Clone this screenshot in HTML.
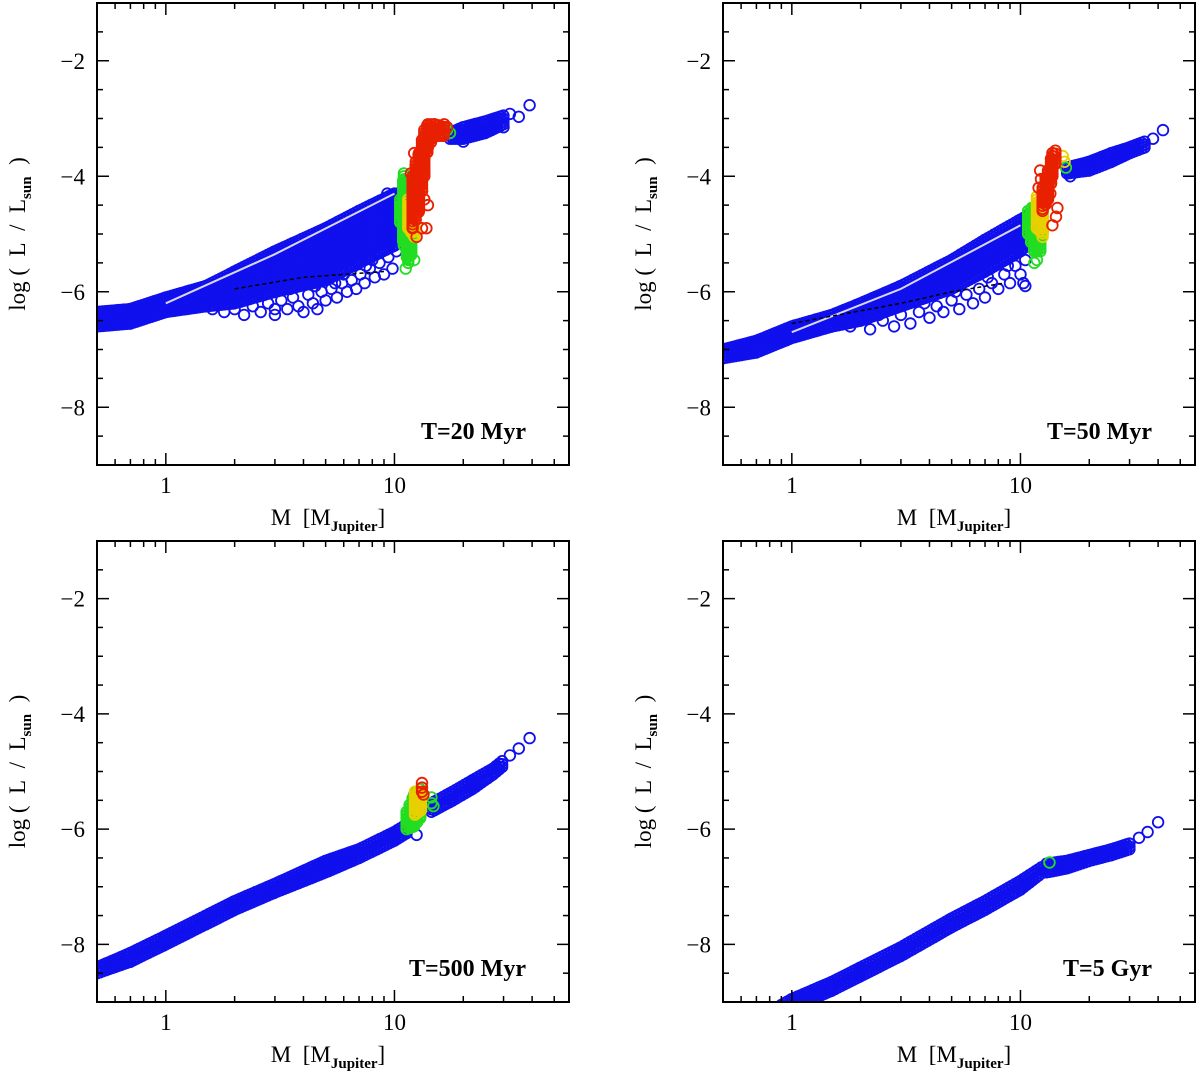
<!DOCTYPE html>
<html><head><meta charset="utf-8"><style>
body{margin:0;background:#fff}
svg text{font-family:"Liberation Serif",serif;fill:#000}
</style></head><body>
<svg id="fig" width="1200" height="1075" viewBox="0 0 1200 1075" xmlns="http://www.w3.org/2000/svg"></svg>
<script>
// ---------- DATA ----------
const yTicks=[-2,-4,-6,-8];
const yTickLabels=["\u22122","\u22124","\u22126","\u22128"];
const xTicks=[1,10];
const xTickLabels=["1","10"];
const panelLabels=["T=20 Myr","T=50 Myr","T=500 Myr","T=5 Gyr"];

// Panel 1 (20 Myr)
const p1BlueM=[0.5,0.7,1,1.5,2,3,5,7,10,11];
const p1BlueHi=[-6.35,-6.3,-6.1,-5.9,-5.65,-5.3,-4.9,-4.6,-4.3,-4.3];
const p1BlueLo=[-6.6,-6.55,-6.35,-6.25,-6.2,-6.0,-5.8,-5.5,-5.2,-4.9];
const p1OutM=[1.6,1.8,2.0,2.2,2.4,2.6,2.8,3.0,3.2,3.4,3.6,3.8,4.0,4.2,4.4,4.6,4.8,5.0,5.3,5.6,5.9,6.2,6.5,6.8,7.1,7.4,7.8,8.2,8.6,9.0,9.4,9.8,10.2,4.5,3.5,2.5,6,8,9.5,10.5,3.0,5.5,7.5,9.3];
const p1OutL=[-6.3,-6.35,-6.3,-6.4,-6.25,-6.35,-6.2,-6.3,-6.15,-6.3,-6.1,-6.25,-6.35,-6.05,-6.2,-6.3,-6.0,-6.15,-5.95,-6.1,-5.85,-6.0,-5.8,-5.95,-5.7,-5.85,-5.6,-5.75,-5.5,-5.7,-5.4,-5.6,-5.3,-5.9,-5.95,-6.05,-5.7,-5.45,-5.15,-5.0,-6.4,-5.85,-5.55,-4.3];
const p1GreenM=[10.6,11,11.5,12];
const p1GreenHi=[-4.4,-4.0,-4.1,-4.5];
const p1GreenLo=[-4.8,-5.2,-5.5,-5.3];
const p1GreenPtM=[11.2,12.2,11,17,17.5];
const p1GreenPtL=[-5.6,-5.45,-3.95,-3.2,-3.25];
const p1YellowM=[11.5,12.5];
const p1YellowHi=[-4.4,-4.6];
const p1YellowLo=[-4.9,-5.1];
const p1RedM=[12,12.8,13.5,14,15,16.5];
const p1RedHi=[-4.0,-3.6,-3.2,-3.1,-3.1,-3.15];
const p1RedLo=[-4.9,-4.6,-4.0,-3.5,-3.3,-3.3];
const p1RedPtM=[11.8,12.2,12.4,12.5,13.2,13.8,13.5,14,12.2,16.5,17];
const p1RedPtL=[-3.95,-3.6,-3.75,-5.05,-4.9,-4.9,-4.4,-4.5,-4.2,-3.1,-3.15];
const p1TailM=[17.5,20,25,30];
const p1TailHi=[-3.25,-3.15,-3.05,-2.95];
const p1TailLo=[-3.35,-3.35,-3.25,-3.1];
const p1TailPtM=[20,22,30,32,35,39];
const p1TailPtL=[-3.4,-3.3,-3.15,-2.92,-2.97,-2.77];
const p1WhiteM=[1,3,10];
const p1WhiteL=[-6.2,-5.35,-4.3];
const p1DashM=[2,4,9];
const p1DashL=[-5.95,-5.75,-5.65];

// Panel 2 (50 Myr)
const p2BlueM=[0.5,0.7,1,1.5,2,3,5,7,10,11.2];
const p2BlueHi=[-7.0,-6.85,-6.6,-6.4,-6.2,-5.9,-5.45,-5.1,-4.75,-4.65];
const p2BlueLo=[-7.15,-7.05,-6.8,-6.6,-6.5,-6.25,-5.95,-5.65,-5.3,-5.1];
const p2OutM=[1.8,2.2,2.5,2.8,3.0,3.3,3.6,4.0,4.3,4.6,5.0,5.4,5.8,6.2,6.6,7.0,7.5,8.0,8.5,9,9.5,10,10.5,3.8,5.2,7.2,2.4,8.8,10.3,10.5];
const p2OutL=[-6.6,-6.65,-6.5,-6.6,-6.4,-6.55,-6.35,-6.45,-6.25,-6.35,-6.15,-6.3,-6.05,-6.2,-5.95,-6.1,-5.85,-5.95,-5.7,-5.85,-5.55,-5.7,-5.45,-6.2,-6.0,-5.75,-6.4,-5.55,-5.85,-5.9];
const p2GreenM=[10.8,11.5,12.5];
const p2GreenHi=[-4.6,-4.55,-4.8];
const p2GreenLo=[-5.0,-5.3,-5.3];
const p2GreenPtM=[11.8,11.5,11.2,15.8];
const p2GreenPtL=[-5.45,-5.5,-4.55,-3.85];
const p2YellowM=[11.8,12.6];
const p2YellowHi=[-4.35,-4.5];
const p2YellowLo=[-4.9,-5.0];
const p2YellowPtM=[12.5,15.3,15.6];
const p2YellowPtL=[-5.05,-3.65,-3.75];
const p2RedM=[12.5,13.2,13.8,14.3];
const p2RedHi=[-4.2,-3.9,-3.6,-3.55];
const p2RedLo=[-4.6,-4.4,-4.0,-3.75];
const p2RedPtM=[12.0,12.3,14.5,14.3,13.8,13.5,12.2];
const p2RedPtL=[-4.2,-4.05,-4.55,-4.7,-4.85,-4.3,-3.9];
const p2TailM=[16,20,25,30,35];
const p2TailHi=[-3.85,-3.75,-3.6,-3.5,-3.4];
const p2TailLo=[-3.95,-3.9,-3.75,-3.6,-3.5];
const p2TailPtM=[38,42,16.5];
const p2TailPtL=[-3.35,-3.2,-4.0];
const p2WhiteM=[1,3,10];
const p2WhiteL=[-6.7,-5.95,-4.85];
const p2DashM=[1,3,5,8.5];
const p2DashL=[-6.55,-6.2,-6.0,-5.85];

// Panel 3 (500 Myr)
const p3BlueM=[0.5,0.7,1,1.5,2,3,5,7,10,11.5];
const p3BlueHi=[-8.4,-8.15,-7.85,-7.5,-7.25,-6.95,-6.55,-6.35,-6.05,-5.9];
const p3BlueLo=[-8.5,-8.3,-8.0,-7.65,-7.4,-7.1,-6.75,-6.5,-6.2,-6.05];
const p3GreenM=[11.3,12.2,13];
const p3GreenHi=[-5.7,-5.4,-5.3];
const p3GreenLo=[-6.0,-5.95,-5.8];
const p3GreenPtM=[14.5,14.8,14.5];
const p3GreenPtL=[-5.45,-5.6,-5.55];
const p3YellowM=[12.3,13.3];
const p3YellowHi=[-5.35,-5.35];
const p3YellowLo=[-5.75,-5.65];
const p3RedPtM=[13.2,13.2,13.2,13.4];
const p3RedPtL=[-5.2,-5.28,-5.35,-5.4];
const p3TailM=[14.5,18,22,27,30];
const p3TailHi=[-5.55,-5.35,-5.15,-4.95,-4.8];
const p3TailLo=[-5.7,-5.5,-5.3,-5.05,-4.9];
const p3TailPtM=[32,35,39,12.5];
const p3TailPtL=[-4.72,-4.6,-4.42,-6.1];

// Panel 4 (5 Gyr)
const p4BlueM=[0.9,1,1.5,2,3,5,7,10,12.5];
const p4BlueHi=[-9.05,-8.95,-8.65,-8.4,-8.05,-7.55,-7.25,-6.9,-6.65];
const p4BlueLo=[-9.2,-9.1,-8.8,-8.55,-8.2,-7.7,-7.4,-7.05,-6.75];
const p4TailM=[13,16,20,25,30];
const p4TailHi=[-6.6,-6.55,-6.45,-6.35,-6.25];
const p4TailLo=[-6.75,-6.68,-6.55,-6.45,-6.35];
const p4TailPtM=[33,36,40];
const p4TailPtL=[-6.15,-6.05,-5.88];
const p4GreenPtM=[13.4];
const p4GreenPtL=[-6.58];

// ---------- RENDERING ----------
const NS="http://www.w3.org/2000/svg";
const svg=document.getElementById('fig');
const BLUE="#1010ee",GREEN="#22dd22",YELLOW="#e8d000",RED="#e82000";
const R=5.3,SW=1.8,STEP=3;
const XMIN=0.5,XMAX=58,YMIN=-9,YMAX=-1;
function mk(tag,attrs,parent){const e=document.createElementNS(NS,tag);for(const k in attrs)e.setAttribute(k,attrs[k]);(parent||svg).appendChild(e);return e;}

function makePanel(idx,x0,y0,x1,y1){
  const P={x0,y0,x1,y1};
  P.px=m=>x0+(Math.log10(m)-Math.log10(XMIN))/(Math.log10(XMAX)-Math.log10(XMIN))*(x1-x0);
  P.py=v=>y1-(v-YMIN)/(YMAX-YMIN)*(y1-y0);
  const g=mk('g',{});
  
  
  const cp=mk('clipPath',{id:'clip'+idx},g);
  mk('rect',{x:x0,y:y0,width:x1-x0,height:y1-y0},cp);
  P.g=g;
  P.plot=mk('g',{'clip-path':'url(#clip'+idx+')'},g);
  
  
  return P;
}
function circle(P,m,v,color,name){
  const c=mk('circle',{cx:P.px(m).toFixed(1),cy:P.py(v).toFixed(1),r:R,fill:'none',stroke:color,'stroke-width':SW},P.plot);
  
  
}
function band(P,M,Hi,Lo,color,name){
  const g=mk('g',{},P.plot);
  
  
  for(let i=0;i<M.length-1;i++){
    const xa=P.px(M[i]),xb=P.px(M[i+1]);
    for(let x=xa;x<=xb+0.01;x+=STEP){
      const t=xb>xa?(x-xa)/(xb-xa):0;
      const yh=P.py(Hi[i]+(Hi[i+1]-Hi[i])*t), yl=P.py(Lo[i]+(Lo[i+1]-Lo[i])*t);
      for(let y=yh;y<=yl+0.01;y+=STEP){
        mk('circle',{cx:x.toFixed(1),cy:y.toFixed(1),r:R,fill:'none',stroke:color,'stroke-width':SW},g);
      }
      mk('circle',{cx:x.toFixed(1),cy:yl.toFixed(1),r:R,fill:'none',stroke:color,'stroke-width':SW},g);
    }
  }
}
function points(P,M,L,color,name){for(let i=0;i<M.length;i++)circle(P,M[i],L[i],color,name);}
function line(P,M,L,style,name){
  const d=M.map((m,i)=>(i?'L':'M')+P.px(m).toFixed(1)+','+P.py(L[i]).toFixed(1)).join('');
  const p=mk('path',Object.assign({d:d,fill:'none'},style),P.plot);
  
  
}
function axes(P,idx,label){
  const g=P.g;const {x0,y0,x1,y1}=P;
  const fr=mk('rect',{x:x0,y:y0,width:x1-x0,height:y1-y0,fill:'none',stroke:'#000','stroke-width':2},g);
  
  
  for(let v=-8.5;v<=-1.5;v+=0.5){
    const y=P.py(v);const major=Math.abs(v%2)<1e-9;const L=major?12:6;
    mk('line',{x1:x0,y1:y,x2:x0+L,y2:y,stroke:'#000','stroke-width':1.5},g);
    mk('line',{x1:x1,y1:y,x2:x1-L,y2:y,stroke:'#000','stroke-width':1.5},g);
  }
  yTicks.forEach((v,i)=>{
    const t=mk('text',{x:x0-12,y:P.py(v)+8,'text-anchor':'end','font-size':23},g);
    t.textContent=yTickLabels[i];
    
    
  });
  const minors=[0.6,0.7,0.8,0.9,2,3,4,5,6,7,8,9,20,30,40,50];
  minors.forEach(m=>{const x=P.px(m);
    mk('line',{x1:x,y1:y1,x2:x,y2:y1-6,stroke:'#000','stroke-width':1.5},g);
    mk('line',{x1:x,y1:y0,x2:x,y2:y0+6,stroke:'#000','stroke-width':1.5},g);});
  xTicks.forEach((m,i)=>{const x=P.px(m);
    mk('line',{x1:x,y1:y1,x2:x,y2:y1-12,stroke:'#000','stroke-width':1.5},g);
    mk('line',{x1:x,y1:y0,x2:x,y2:y0+12,stroke:'#000','stroke-width':1.5},g);
    const t=mk('text',{x:x,y:y1+28,'text-anchor':'middle','font-size':23},g);
    t.textContent=xTickLabels[i];
    
    
  });
  const xt=mk('text',{x:(x0+x1)/2-5,y:y1+60,'text-anchor':'middle','font-size':23},g);
  xt.innerHTML='M&#160;&#160;[M<tspan font-size="15" font-weight="bold" dy="6">Jupiter</tspan><tspan dy="-6">]</tspan>';
  
  
  const yc=(y0+y1)/2;
  const yt=mk('text',{x:0,y:0,'text-anchor':'middle','font-size':23,transform:'translate('+(x0-72)+','+yc+') rotate(-90)'},g);
  yt.innerHTML='log&#160;(&#160;&#160;L&#160;&#160;/&#160;&#160;L<tspan font-size="15" font-weight="bold" dy="6">sun</tspan><tspan dy="-6">&#160;&#160;)</tspan>';
  
  
  const lb=mk('text',{x:x1-43,y:y1-26,'text-anchor':'end','font-size':24,'font-weight':'bold'},g);
  lb.textContent=label;
  
  
}

// Panel 1
const P1=makePanel(0,97,3,569,465);
band(P1,p1BlueM,p1BlueHi,p1BlueLo,BLUE,'blue-band');
points(P1,p1OutM,p1OutL,BLUE,'blue-point');
line(P1,p1WhiteM,p1WhiteL,{stroke:'#d8d8f0','stroke-width':2},'white-line');
line(P1,p1DashM,p1DashL,{stroke:'#000','stroke-width':1.5,'stroke-dasharray':'4,3'},'dashed-line');
band(P1,p1TailM,p1TailHi,p1TailLo,BLUE,'blue-tail');
points(P1,p1TailPtM,p1TailPtL,BLUE,'blue-point');
band(P1,p1GreenM,p1GreenHi,p1GreenLo,GREEN,'green-band');
points(P1,p1GreenPtM,p1GreenPtL,GREEN,'green-point');
band(P1,p1YellowM,p1YellowHi,p1YellowLo,YELLOW,'yellow-band');
band(P1,p1RedM,p1RedHi,p1RedLo,RED,'red-band');
points(P1,p1RedPtM,p1RedPtL,RED,'red-point');
axes(P1,0,panelLabels[0]);

// Panel 2
const P2=makePanel(1,723,3,1195,465);
band(P2,p2BlueM,p2BlueHi,p2BlueLo,BLUE,'blue-band');
points(P2,p2OutM,p2OutL,BLUE,'blue-point');
line(P2,p2WhiteM,p2WhiteL,{stroke:'#d8d8f0','stroke-width':2},'white-line');
line(P2,p2DashM,p2DashL,{stroke:'#000','stroke-width':1.5,'stroke-dasharray':'4,3'},'dashed-line');
band(P2,p2TailM,p2TailHi,p2TailLo,BLUE,'blue-tail');
points(P2,p2TailPtM,p2TailPtL,BLUE,'blue-point');
band(P2,p2GreenM,p2GreenHi,p2GreenLo,GREEN,'green-band');
points(P2,p2GreenPtM,p2GreenPtL,GREEN,'green-point');
band(P2,p2YellowM,p2YellowHi,p2YellowLo,YELLOW,'yellow-band');
points(P2,p2YellowPtM,p2YellowPtL,YELLOW,'yellow-point');
band(P2,p2RedM,p2RedHi,p2RedLo,RED,'red-band');
points(P2,p2RedPtM,p2RedPtL,RED,'red-point');
axes(P2,1,panelLabels[1]);

// Panel 3
const P3=makePanel(2,97,541,569,1002);
band(P3,p3BlueM,p3BlueHi,p3BlueLo,BLUE,'blue-band');
band(P3,p3TailM,p3TailHi,p3TailLo,BLUE,'blue-tail');
points(P3,p3TailPtM,p3TailPtL,BLUE,'blue-point');
band(P3,p3GreenM,p3GreenHi,p3GreenLo,GREEN,'green-band');
points(P3,p3GreenPtM,p3GreenPtL,GREEN,'green-point');
band(P3,p3YellowM,p3YellowHi,p3YellowLo,YELLOW,'yellow-band');
points(P3,p3RedPtM,p3RedPtL,RED,'red-point');
axes(P3,2,panelLabels[2]);

// Panel 4
const P4=makePanel(3,723,541,1195,1002);
band(P4,p4BlueM,p4BlueHi,p4BlueLo,BLUE,'blue-band');
band(P4,p4TailM,p4TailHi,p4TailLo,BLUE,'blue-tail');
points(P4,p4TailPtM,p4TailPtL,BLUE,'blue-point');
points(P4,p4GreenPtM,p4GreenPtL,GREEN,'green-point');
axes(P4,3,panelLabels[3]);
</script>
</body></html>
